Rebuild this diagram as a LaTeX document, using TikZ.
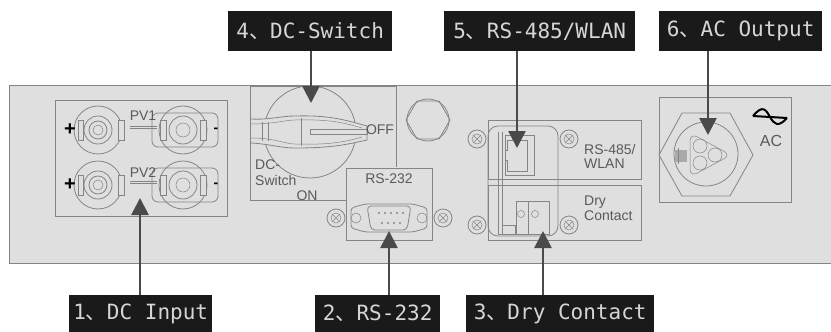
\documentclass[tikz,border=0pt]{standalone}
\usepackage{fontspec}
\setmainfont{Liberation Sans}
\newfontfamily\tagfont{DejaVu Sans Mono}
\newfontfamily\cjkfont{Noto Sans CJK SC}
\usetikzlibrary{arrows.meta}

\definecolor{panelgray}{HTML}{DFDFDF}
\definecolor{linegray}{HTML}{858585}
\definecolor{textgray}{HTML}{5A5A5A}
\definecolor{tagblack}{HTML}{1A1A1A}
\definecolor{taggray}{HTML}{D6D6D6}
\definecolor{arrowgray}{HTML}{4A4A4A}

\tikzset{
  part/.style={draw=linegray, line width=0.8pt},
  thinpart/.style={draw=linegray, line width=0.5pt},
  caption/.style={text=textgray, font=\fontsize{14}{15}\selectfont, inner sep=0pt},
  tagbox/.style={fill=tagblack, text=taggray, anchor=north west, inner sep=0pt,
    minimum height=40pt, align=center, font=\tagfont\fontsize{21}{24}\selectfont},
  pointer/.style={arrowgray, line width=2.6pt, -{Triangle[length=17pt,width=17pt]}}
}
\newcommand{\tagsep}{{\cjkfont 、}}

\begin{document}
\begin{tikzpicture}[x=1pt,y=-1pt]
\useasboundingbox (0,0) rectangle (831,332);

% front panel
\fill[panelgray] (9,85) rectangle (831,263);
\draw[part] (831,85) -- (9,85) -- (9,263) -- (831,263);

% DC input
\draw[part] (55,100) rectangle (227,216);
\foreach \y/\n/\ty in {130/1/116,185/2/173} {
  \draw[part] (98,\y) circle (24);
  \draw[part] (98,\y) circle (14);
  \draw[part] (98,\y) circle (9);
  \draw[thinpart] (98,\y) circle (5);
  \draw[part, fill=panelgray] (78,\y-10) rectangle (83,\y+10);
  \draw[part, fill=panelgray] (118,\y-10) rectangle (124,\y+10);
  \draw[part] (183,\y) circle (24);
  \draw[part, rounded corners=6pt] (152,\y-17) rectangle (218,\y+17);
  \draw[part] (183,\y) circle (14);
  \draw[thinpart] (183,\y) circle (7);
  \draw[part, fill=panelgray] (160,\y-10) rectangle (166,\y+10);
  \draw[part, fill=panelgray] (200,\y-10) rectangle (206,\y+10);
  \draw[thinpart] (130,\y-4) -- (157,\y-4);
  \draw[thinpart] (130,\y-2) -- (157,\y-2);
  \node[caption] (pv\n) at (143,\ty) {PV\n};
  \node[text=black, font=\bfseries\fontsize{20}{20}\selectfont, inner sep=0pt] (plus\n) at (70,\y) {+};
  \node[text=black, font=\bfseries\fontsize{14}{14}\selectfont, inner sep=0pt] (minus\n) at (216,\y) {-};
}

% DC switch
\draw[part] (347,200) -- (250,200) -- (250,86) -- (396,86) -- (396,167);
\draw[part] (310,132) circle (46);
\draw[part, fill=panelgray] (251,119) .. controls (270,120) and (280,116) .. (295,116)
  .. controls (330,115) and (345,120) .. (367,126) -- (367,140)
  .. controls (345,145) and (330,148) .. (295,148)
  .. controls (280,148) and (270,144) .. (251,143);
\draw[thinpart] (251,124) .. controls (275,124) and (285,120) .. (295,120)
  .. controls (330,119) and (345,123) .. (362,128);
\draw[thinpart] (251,138) .. controls (275,138) and (285,144) .. (295,144)
  .. controls (330,145) and (345,142) .. (362,137);
\draw[thinpart] (262,122) -- (262,141) (268,122) -- (268,141) (301,118) -- (301,146);
\draw[thinpart] (310,129) rectangle (367,134);
\node[caption] (offtext) at (380,130) {OFF};
\node[caption, anchor=west] (dctext) at (255,165) {DC-};
\node[caption, anchor=west] (switchtext) at (255,180) {Switch};
\node[caption] (ontext) at (307,196) {ON};

% hex nut
\draw[part] (406,120) -- (417,101) -- (439,101) -- (450,120) -- (439,139) -- (417,139) -- cycle;
\draw[part] (428,120) circle (21);

% RS-232
\draw[part, fill=panelgray] (346,168) rectangle (432,240);
\node[caption] (rstext) at (389,179) {RS-232};
\draw[part, rounded corners=3pt] (351,208) -- (365,204) -- (413,204) -- (427,208)
  -- (427,228) -- (413,232) -- (365,232) -- (351,228) -- cycle;
\draw[part, fill=panelgray, rounded corners=4pt] (367,206) -- (411,206) -- (407,230) -- (371,230) -- cycle;
\draw[thinpart] (356,218) circle (5);
\draw[thinpart] (422,218) circle (5);
\foreach \x in {379,385,391,397,403}
  \fill[linegray] (\x,213) circle (1.2);
\foreach \x in {382,388,394,400}
  \fill[linegray] (\x,223) circle (1.2);

% screws
\foreach \x/\y in {336/218,443/218,477/139,569/139,477/225,569/225} {
  \draw[part, fill=panelgray] (\x,\y) circle (9);
  \draw[thinpart] (\x,\y) circle (5);
  \draw[thinpart] (\x-4,\y-4) -- (\x+4,\y+4) (\x-4,\y+4) -- (\x+4,\y-4);
}

% RS-485 and dry contact
\draw[part] (488,120) rectangle (641,179);
\draw[part] (488,185) rectangle (641,240);
\draw[part, rounded corners=10pt] (488,126) rectangle (558,236);
\draw[part] (498,132) -- (498,234) -- (549,234);
\draw[thinpart] (502,132) -- (502,234);
\draw[part] (505,135) rectangle (534,175);
\draw[part] (507,140) -- (527,140) -- (527,171) -- (507,171) -- (507,160) -- (505,160) -- (505,150) -- (507,150) -- cycle;
\draw[part] (516,201) rectangle (549,234);
\draw[part] (528,201) -- (528,234);
\draw[thinpart] (521,214) circle (3.5);
\draw[thinpart] (535,214) circle (3.5);
\draw[part] (502,225) rectangle (515,234);
\node[caption, anchor=west] (wlantext) at (584,149) {RS-485/};
\node[caption, anchor=west] (wlantextb) at (584,164) {WLAN};
\node[caption, anchor=west] (drytext) at (584,202) {Dry};
\node[caption, anchor=west] (contacttext) at (584,216) {Contact};

% AC output
\draw[part] (659,97) rectangle (791,202);
\draw[part] (659,155) -- (682,113) -- (730,113) -- (753,155) -- (730,196) -- (682,196) -- cycle;
\draw[part] (706,154) circle (32);
\draw[thinpart, rounded corners=8pt] (690,133) -- (731,155) -- (690,177) -- cycle;
\draw[thinpart] (700,146) circle (7);
\draw[thinpart] (700,163) circle (7);
\draw[thinpart] (715,155) circle (7);
\fill[linegray!70] (675,150) rectangle (687,162);
\draw[thinpart] (678,148) -- (678,164);
\draw[black, line width=2pt] (753,116) .. controls (763,104) and (766,110) .. (770,117)
  .. controls (774,124) and (778,128) .. (787,118);
\draw[black, line width=2pt] (753,116) -- (787,118);
\node[caption, font=\fontsize{16}{17}\selectfont] (actext) at (771,141) {AC};

% labels
\node[tagbox, minimum width=164pt] (switchtag) at (228,11) {4\tagsep DC-Switch};
\node[tagbox, minimum width=191pt] (wlantag) at (444,11) {5\tagsep RS-485/WLAN};
\node[tagbox, minimum width=163pt] (outputtag) at (659,11) {6\tagsep AC Output};
\node[tagbox, minimum width=143pt, minimum height=37pt] (inputtag) at (69,295) {1\tagsep DC Input};
\node[tagbox, minimum width=125pt, minimum height=37pt] (rs232tag) at (315,295) {2\tagsep RS-232};
\node[tagbox, minimum width=188pt, minimum height=37pt] (drytag) at (466,295) {3\tagsep Dry Contact};

% arrows
\coordinate (switchtip) at (311,103);
\coordinate (wlantip) at (517,148);
\coordinate (outputtip) at (708,135);
\coordinate (inputtip) at (140,198);
\coordinate (rs232tip) at (389,231);
\coordinate (drytip) at (543,231);
\foreach \tg in {switch,wlan,output}
  \draw[pointer] (\tg tip |- \tg tag.south) -- (\tg tip);
\foreach \tg in {input,rs232,dry}
  \draw[pointer] (\tg tip |- \tg tag.north) -- (\tg tip);
\end{tikzpicture}
\end{document}
